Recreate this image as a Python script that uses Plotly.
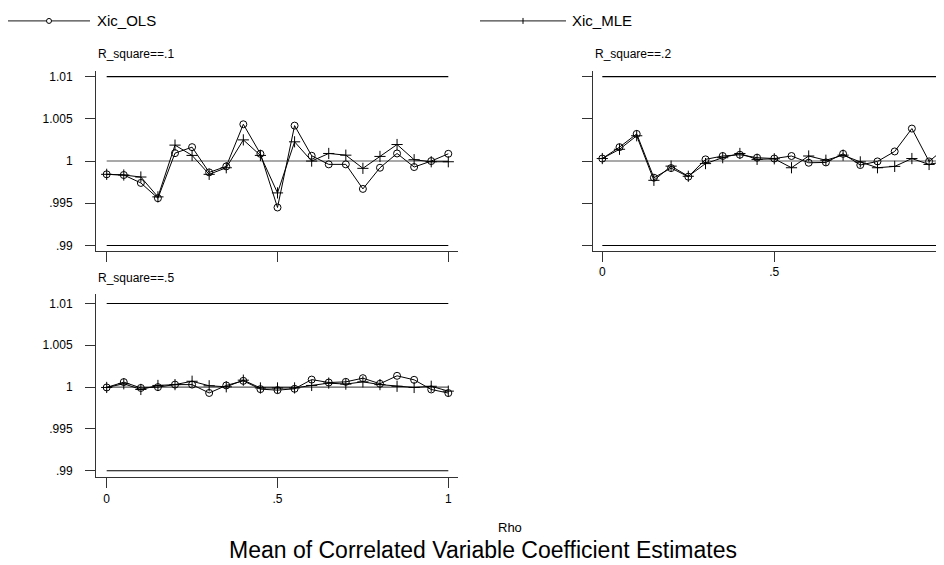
import plotly.graph_objects as go

RHO = [0, 0.05, 0.1, 0.15, 0.2, 0.25, 0.3, 0.35, 0.4, 0.45, 0.5,
       0.55, 0.6, 0.65, 0.7, 0.75, 0.8, 0.85, 0.9, 0.95, 1]

# R_square == .1
OLS_R1 = [0.99843, 0.99835, 0.99741, 0.99560, 1.00094, 1.00165, 0.99866, 0.99937, 1.00436, 1.00086, 0.99450,
          1.00420, 1.00063, 0.99961, 0.99961, 0.99670, 0.99921, 1.00090, 0.99929, 1.00000, 1.00086]
MLE_R1 = [0.99843, 0.99835, 0.99811, 0.99576, 1.00189, 1.00067, 0.99843, 0.99921, 1.00251, 1.00067, 0.99623,
          1.00228, 1.00000, 1.00090, 1.00070, 0.99914, 1.00055, 1.00196, 1.00016, 0.99992, 0.99992]
# R_square == .2
OLS_R2 = [1.00030, 1.00165, 1.00322, 0.99803, 0.99917, 0.99815, 1.00020, 1.00060, 1.00075, 1.00040, 1.00030,
          1.00060, 0.99980, 0.99984, 1.00086, 0.99953, 0.99996, 1.00114, 1.00385, 0.99996, 1.00165]
MLE_R2 = [1.00030, 1.00140, 1.00300, 0.99772, 0.99940, 0.99820, 0.99970, 1.00040, 1.00090, 1.00020, 1.00027,
          0.99921, 1.00060, 1.00010, 1.00070, 0.99990, 0.99921, 0.99937, 1.00030, 0.99960, 1.00000]
# R_square == .5
OLS_R5 = [0.99996, 1.00060, 0.99990, 1.00000, 1.00030, 1.00030, 0.99930, 1.00020, 1.00075, 0.99976, 0.99964,
          0.99980, 1.00090, 1.00055, 1.00063, 1.00107, 1.00040, 1.00135, 1.00087, 0.99972, 0.99929]
MLE_R5 = [0.99996, 1.00040, 0.99972, 1.00020, 1.00030, 1.00070, 1.00016, 1.00004, 1.00083, 0.99990, 0.99990,
          0.99990, 1.00020, 1.00048, 1.00036, 1.00063, 1.00030, 1.00010, 0.99996, 1.00010, 0.99952]

PANEL_TITLES = ["R_square==.1", "R_square==.2", "R_square==.5"]
SERIES_NAMES = ["Xic_OLS", "Xic_MLE"]
Y_TICKS = [0.99, 0.995, 1.0, 1.005, 1.01]
Y_TICK_TEXT = [".99", ".995", "1", "1.005", "1.01"]
X_TICKS = [0, 0.5, 1]
X_TICK_TEXT = ["0", ".5", "1"]
REF_LINES = [0.99, 1.0, 1.01]

W, H = 944, 565
OFF = 8  # page body margin of the html page
FONT = "Liberation Sans, Arial, sans-serif"

def px(x):
    return (x - OFF) / W

def py(y):
    return 1 - (y - OFF) / H

fig = go.Figure()

panels = [
    # (xaxis id, yaxis id, ols, mle, xdomain px (screen), ydomain px (screen), xrange, yrange, show x labels, show y labels)
    ("x", "y", OLS_R1, MLE_R1, (96, 458), (70, 251), [-0.0313, 1.0284], [0.98938, 1.01071], False, True),
    ("x2", "y2", OLS_R2, MLE_R2, (592.7, 952), (70, 251), [-0.0279, 1.0166], [0.98938, 1.01071], True, False),
    ("x3", "y3", OLS_R5, MLE_R5, (96, 458), (295, 479), [-0.0313, 1.0284], [0.98920, 1.01107], True, True),
]

shapes = []
annotations = []
for i, (xa, ya, ols, mle, xd, yd, xr, yr, showx, showy) in enumerate(panels):
    fig.add_trace(go.Scatter(
        x=RHO, y=ols, xaxis=xa, yaxis=ya, mode="lines+markers", name=SERIES_NAMES[0],
        showlegend=False, cliponaxis=True,
        line=dict(color="black", width=1),
        marker=dict(symbol="circle-open", size=7, color="black", line=dict(width=1, color="black"))))
    fig.add_trace(go.Scatter(
        x=RHO, y=mle, xaxis=xa, yaxis=ya, mode="lines+markers", name=SERIES_NAMES[1],
        showlegend=False, cliponaxis=True,
        line=dict(color="black", width=1),
        marker=dict(symbol="cross-thin-open", size=8, color="black", line=dict(width=1, color="black"))))
    suffix = "" if i == 0 else str(i + 1)
    xkey = "xaxis" + suffix
    ykey = "yaxis" + suffix
    fig.update_layout(**{
        xkey: dict(domain=[max(0, px(xd[0])), min(1, px(xd[1]))], range=xr, anchor=ya,
                   tickvals=X_TICKS, ticktext=X_TICK_TEXT, showticklabels=showx,
                   ticks="outside", ticklen=10, tickwidth=1, tickcolor="#333",
                   showline=True, linecolor="#333", linewidth=1, showgrid=False, zeroline=False,
                   tickfont=dict(family=FONT, size=12, color="black")),
        ykey: dict(domain=[py(yd[1]), py(yd[0])], range=yr, anchor=xa,
                   tickvals=Y_TICKS, ticktext=Y_TICK_TEXT, showticklabels=showy,
                   ticks="outside", ticklen=10, tickwidth=1, tickcolor="#333",
                   ticklabelstandoff=10,
                   showline=True, linecolor="#333", linewidth=1, showgrid=False, zeroline=False,
                   tickfont=dict(family=FONT, size=12, color="black")),
    })
    for v in REF_LINES:
        shapes.append(dict(type="line", xref=xa, yref=ya, x0=0, x1=1, y0=v, y1=v, layer="below",
                           line=dict(color="#555" if v == 1.0 else "black", width=1.1)))
    annotations.append(dict(text=PANEL_TITLES[i], xref="paper", yref="paper",
                            x=px(xd[0]), y=py(yd[0] - 17), xanchor="left", yanchor="middle",
                            showarrow=False, font=dict(family=FONT, size=12, color="black")))

# legend (drawn manually, Stata style)
leg = [(7, 90, 49, 95, "circle"), (480, 566, 523, 570, "plus")]
for (x0, x1, xm, xt, kind), name in zip(leg, SERIES_NAMES):
    shapes.append(dict(type="line", xref="paper", yref="paper", x0=px(x0), x1=px(x1),
                       y0=py(20), y1=py(20), line=dict(color="#444", width=1.2)))
    if kind == "circle":
        shapes.append(dict(type="circle", xref="paper", yref="paper",
                           x0=px(xm - 2.5), x1=px(xm + 2.5), y0=py(22.5), y1=py(17.5),
                           fillcolor="white", line=dict(color="black", width=1)))
    else:
        shapes.append(dict(type="line", xref="paper", yref="paper", x0=px(xm), x1=px(xm),
                           y0=py(23), y1=py(17), line=dict(color="black", width=1)))
    annotations.append(dict(text=name, xref="paper", yref="paper", x=px(xt), y=py(20),
                            xanchor="left", yanchor="middle", showarrow=False,
                            font=dict(family=FONT, size=15, color="black")))

annotations.append(dict(text="Rho", xref="paper", yref="paper", x=px(510), y=py(529),
                        xanchor="center", yanchor="middle", showarrow=False,
                        font=dict(family=FONT, size=13, color="black")))
annotations.append(dict(text="Mean of Correlated Variable Coefficient Estimates", xref="paper", yref="paper",
                        x=px(483), y=py(552), xanchor="center", yanchor="middle", showarrow=False,
                        font=dict(family=FONT, size=23, color="black")))

fig.update_layout(width=W, height=H, margin=dict(l=0, r=0, t=0, b=0),
                  paper_bgcolor="white", plot_bgcolor="white",
                  shapes=shapes, annotations=annotations, showlegend=False,
                  font=dict(family=FONT, color="black"))

fig.write_html("out.html")
